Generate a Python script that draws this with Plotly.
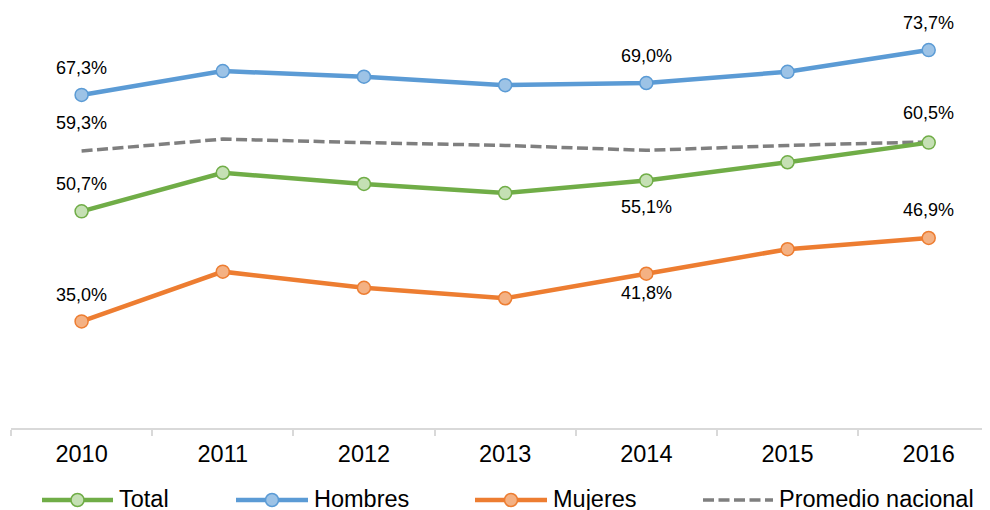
import plotly.graph_objects as go

years = ["2010", "2011", "2012", "2013", "2014", "2015", "2016"]
total = [50.7, 56.2, 54.6, 53.3, 55.1, 57.7, 60.5]
hombres = [67.3, 70.7, 69.9, 68.7, 69.0, 70.6, 73.7]
mujeres = [35.0, 42.1, 39.8, 38.3, 41.8, 45.3, 46.9]
promedio = [59.3, 61.0, 60.5, 60.1, 59.4, 60.1, 60.6]

# which points carry a data label: (index, vertical shift in px)
label_total = [(0, 27), (4, -27), (6, 30)]
label_hombres = [(0, 27), (4, 27), (6, 27)]
label_mujeres = [(0, 26), (4, -19), (6, 28)]
label_promedio = [(0, 28)]

FONT = "Arial, Liberation Sans, sans-serif"
GREEN, GREEN_F = "#70AD47", "#C5E0B4"
BLUE, BLUE_F = "#5B9BD5", "#9DC3E6"
ORANGE, ORANGE_F = "#ED7D31", "#F4B183"
GRAY = "#7F7F7F"
DASH = "11px,4.5px"

# page body adds an 8px offset
OFF = 8
W, H = 982, 502
ML, MR, MT, MB = 3, 2, 0, 82
PW, PH = W - ML - MR, H - MT - MB

fig = go.Figure()

def add_series(name, vals, color, fill):
    fig.add_trace(go.Scatter(
        x=years, y=vals, name=name, mode="lines+markers",
        line=dict(color=color, width=4.5),
        marker=dict(size=13, color=fill, line=dict(color=color, width=1.5)),
        showlegend=False,
    ))

fig.add_trace(go.Scatter(
    x=years, y=promedio, name="Promedio nacional", mode="lines",
    line=dict(color=GRAY, width=3.5, dash=DASH),
    showlegend=False,
))
add_series("Total", total, GREEN, GREEN_F)
add_series("Hombres", hombres, BLUE, BLUE_F)
add_series("Mujeres", mujeres, ORANGE, ORANGE_F)

def fmt(v):
    return f"{v:.1f}".replace(".", ",") + "%"

annotations = []
for vals, labels in [(total, label_total), (hombres, label_hombres),
                     (mujeres, label_mujeres), (promedio, label_promedio)]:
    for i, shift in labels:
        annotations.append(dict(
            x=i, y=vals[i], xref="x", yref="y", text=fmt(vals[i]),
            showarrow=False, yshift=shift, xanchor="center", yanchor="middle",
            font=dict(family=FONT, size=18, color="#000000"),
        ))

# manual legend (paper coordinates, converted from screen pixels)
def px(sx):
    return (sx - OFF - ML) / PW

def py(sy):
    return (H - MB - (sy - OFF)) / PH

legend_items = [
    ("Total", GREEN, GREEN_F, 42, 113, 117, "solid"),
    ("Hombres", BLUE, BLUE_F, 236, 308, 312, "solid"),
    ("Mujeres", ORANGE, ORANGE_F, 475, 547, 551, "solid"),
    ("Promedio nacional", GRAY, None, 703, 773, 777, "dash"),
]
LY = 499
shapes = []
for name, col, fill, x0, x1, tx, style in legend_items:
    shapes.append(dict(
        type="line", xref="paper", yref="paper",
        x0=px(x0), x1=px(x1), y0=py(LY + 1), y1=py(LY + 1),
        line=dict(color=col, width=4.5 if style == "solid" else 3.5,
                  dash="solid" if style == "solid" else DASH),
    ))
    if fill:
        shapes.append(dict(
            type="circle", xref="paper", yref="paper",
            xsizemode="pixel", ysizemode="pixel",
            xanchor=px((x0 + x1) / 2), yanchor=py(LY + 1),
            x0=-6.5, x1=6.5, y0=-6.5, y1=6.5,
            fillcolor=fill, line=dict(color=col, width=1.5),
        ))
    annotations.append(dict(
        x=px(tx), y=py(LY), xref="paper", yref="paper", text=name,
        showarrow=False, xanchor="left", yanchor="middle",
        font=dict(family=FONT, size=23.5, color="#000000"),
    ))

fig.update_layout(
    width=W, height=H,
    margin=dict(l=ML, r=MR, t=MT, b=MB, autoexpand=False),
    paper_bgcolor="white", plot_bgcolor="white",
    font=dict(family=FONT, color="#000000"),
    xaxis=dict(
        type="category", range=[-0.5, 6.42],
        showgrid=False, zeroline=False,
        showline=True, linecolor="#D9D9D9", linewidth=1.5,
        ticks="outside", ticklen=6, tickcolor="#D9D9D9", tickwidth=1.5,
        tickson="boundaries", ticklabelstandoff=4,
        tickfont=dict(family=FONT, size=23.5, color="#000000"),
    ),
    yaxis=dict(range=[19.8, 79.7], visible=False, showgrid=False, zeroline=False),
    annotations=annotations,
    shapes=shapes,
    showlegend=False,
)

fig.write_html("out.html")
